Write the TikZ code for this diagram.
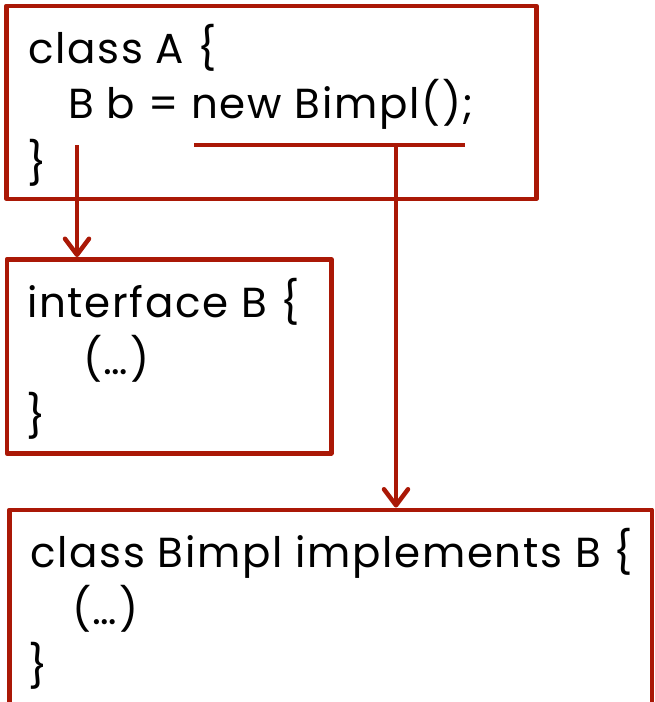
\documentclass[tikz,border=0pt]{standalone}
\usepackage{fontspec}
\setmainfont{Poppins}[LetterSpace=4]
\usetikzlibrary{arrows.meta,positioning}
\definecolor{boxred}{RGB}{170,24,6}
\tikzset{
  box/.style={draw=boxred, line width=4.5pt, line join=round, rectangle,
    inner sep=0pt, anchor=north west},
  code/.style={anchor=base west, inner sep=0pt, font=\fontsize{42}{48}\selectfont},
  link/.style={draw=boxred, line width=4.5pt,
    -{Straight Barb[length=16pt,width=24pt,line cap=round,line join=round]}}
}
\begin{document}
\begin{tikzpicture}[x=1pt,y=-1pt]
  \useasboundingbox (0,0) rectangle (654,702);
  \clip (0,0) rectangle (654,702);

  % Boxes for A, B and Bimpl
  \node[box, minimum width=530pt, minimum height=193pt] (boxA) at (4,3.5) {};
  \node[box, minimum width=324.5pt, minimum height=194pt] (boxB) at (4.5,257) {};
  \node[box, minimum width=642.5pt, minimum height=220pt] (boxImpl) at (7,507.5) {};

  % Code of class A
  \node[code] (a1) at (28,63) {class A \{};
  \node[code] (a2) at (68,118) {B b = new Bimpl();};
  \node[code] (a3) at (27,178) {\}};

  % Code of interface B
  \node[code] (b1) at (27,317) {interface B \{};
  \node[code] (b2) at (83,374) {(…)};
  \node[code] (b3) at (26,431) {\}};

  % Code of class Bimpl
  \node[code] (c1) at (30,567) {class Bimpl implements B \{};
  \node[code] (c2) at (72,624) {(…)};
  \node[code] (c3) at (28,681) {\}};

  % Points under the text
  \coordinate (useB) at (77,145);
  \coordinate (newL) at (194,145);
  \coordinate (newR) at (465,145);
  \coordinate (newMid) at (396,145);

  % Underline and arrows
  \draw[boxred, line width=4.5pt] (newL) -- (newR);
  \draw[link] (useB) -- (useB |- boxB.north);
  \draw[link] (newMid) -- (newMid |- boxImpl.north);
\end{tikzpicture}
\end{document}
